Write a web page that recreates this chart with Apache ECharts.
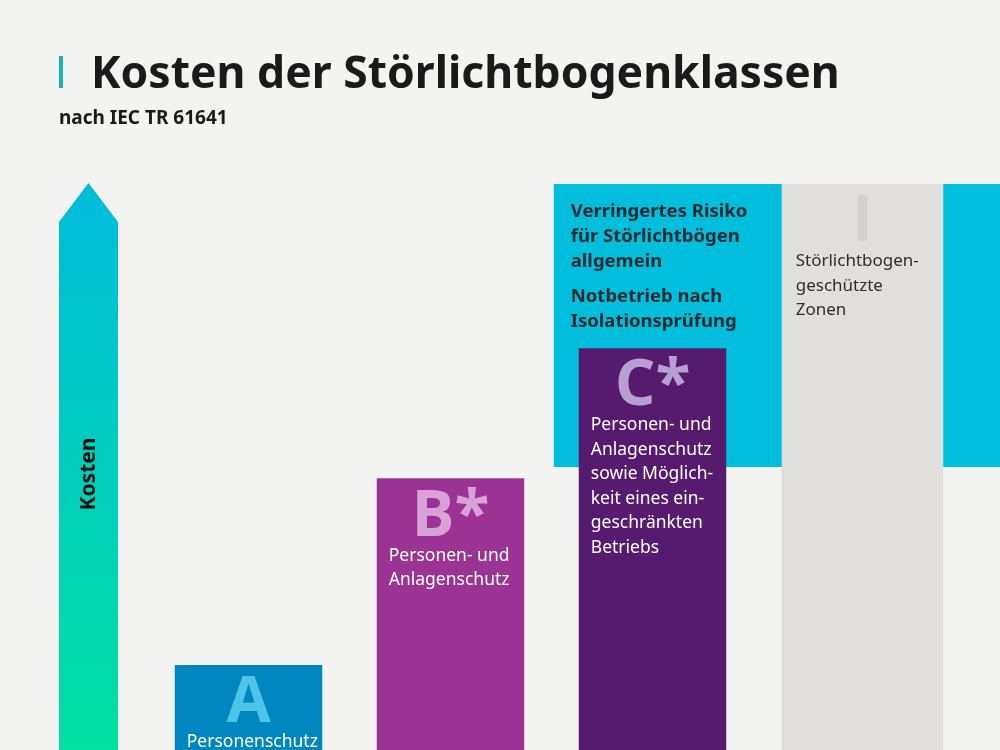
<!DOCTYPE html>
<html>
<head>
<meta charset="utf-8">
<script src="https://cdn.jsdelivr.net/npm/echarts@6/dist/echarts.min.js"></script>
<style>
html, body {margin: 0; padding: 0; background: #f3f3f1;}
#chart {width: 1000px; height: 750px;}
</style>
</head>
<body>
<div id="chart"></div>
<script>
// arc fault classes and their relative cost
const classes = ['A', 'B*', 'C*', 'I']
const costs = [15, 48, 71, 100]
const descriptions = [
  'Personenschutz',
  'Personen- und\nAnlagenschutz',
  'Personen- und\nAnlagenschutz\nsowie Möglich-\nkeit eines ein-\ngeschränkten\nBetriebs',
  'Störlichtbogen-\ngeschützte\nZonen',
]
// reduced-risk band starts at class C* and spans these cost values
const riskStart = 2
const riskBand = [50, 100]
const riskNotes = ['Verringertes Risiko\nfür Störlichtbögen\nallgemein', 'Notbetrieb nach\nIsolationsprüfung']

const font = 'Noto Sans'
const fills = ['#0087c0', '#9b3395', '#561b6f', '#e0dfdb']
const letterFills = ['#4ec4e8', '#d8a2d6', '#b6a0d2', '#d3d2cc']
const textFills = ['#ffffff', '#ffffff', '#ffffff', '#2e2e2e']

const chart = echarts.init(document.getElementById('chart'))

function barBox(api, i, value) {
  const top = api.coord([i, value])
  const base = api.coord([i, 0])
  const band = api.size([1, 0])[0]
  const zone = classes[i] === 'I'
  const w = band * (zone ? 0.8 : 0.73)
  const x = top[0] - w / 2 + (zone ? 8 : 0)
  return {x, y: top[1], w, h: base[1] - top[1], pad: zone ? 14 : 12}
}

function renderBar(params, api) {
  const i = api.value(0)
  const b = barBox(api, i, api.value(1))
  return {
    type: 'group',
    children: [
      {type: 'rect', shape: {x: b.x, y: b.y, width: b.w, height: b.h}, style: {fill: fills[i]}},
      {
        type: 'text',
        style: {
          text: classes[i], x: b.x + b.w / 2, y: b.y + 39, align: 'center', verticalAlign: 'middle',
          fontFamily: 'Open Sans', fontWeight: 'bold', fontSize: 64, fill: letterFills[i],
        },
      },
      {
        type: 'text',
        style: {
          text: descriptions[i], x: b.x + b.pad, y: b.y + 65, verticalAlign: 'top',
          fontFamily: font, fontSize: i === 3 ? 17 : 17.5, lineHeight: 24.5, fill: textFills[i],
        },
      },
    ],
  }
}

function renderBand(params, api) {
  const i = api.value(0)
  const hi = barBox(api, i, api.value(2))
  const lo = api.coord([i, api.value(1)])
  const x = hi.x - 25
  const noteStyle = {fontFamily: font, fontWeight: 'bold', fontSize: 18.5, lineHeight: 25, fill: '#1b2a30', verticalAlign: 'top'}
  return {
    type: 'group',
    children: [
      {type: 'rect', shape: {x, y: hi.y, width: api.getWidth() - x, height: lo[1] - hi.y}, style: {fill: '#00bedc'}},
      {type: 'text', style: Object.assign({text: riskNotes[0], x: x + 17, y: hi.y + 15}, noteStyle)},
      {type: 'text', style: Object.assign({text: riskNotes[1], x: x + 17, y: hi.y + 100}, noteStyle)},
    ],
  }
}

chart.setOption({
  backgroundColor: '#f3f3f1',
  animation: false,
  title: [{
    text: 'Kosten der Störlichtbogenklassen',
    left: 91,
    top: 53,
    padding: 0,
    textStyle: {fontFamily: font, fontWeight: 'bold', fontSize: 44.5, color: '#1a1a1a'},
  }, {
    text: 'nach IEC TR 61641',
    left: 59,
    top: 109,
    padding: 0,
    textStyle: {fontFamily: font, fontWeight: 'bold', fontSize: 19, color: '#1a1a1a'},
  }],
  graphic: [
    {type: 'rect', shape: {x: 59, y: 56, width: 4, height: 32}, style: {fill: '#1ab2b4'}},
    {
      type: 'polygon',
      shape: {points: [[59, 750], [59, 222], [88.5, 183], [118, 222], [118, 750]]},
      style: {
        fill: new echarts.graphic.LinearGradient(0, 0, 0, 1, [
          {offset: 0, color: '#00bcda'},
          {offset: 1, color: '#00e0a0'},
        ]),
      },
      z: 1,
    },
  ],
  grid: {left: 147.5, right: 44.5, top: 184, bottom: 0},
  xAxis: {type: 'category', data: classes, show: false},
  yAxis: {
    type: 'value',
    min: 0,
    max: 100,
    axisLine: {show: false},
    axisTick: {show: false},
    axisLabel: {show: false},
    splitLine: {show: false},
    name: 'Kosten',
    nameLocation: 'middle',
    nameRotate: 90,
    nameGap: 48,
    nameTextStyle: {fontFamily: font, fontWeight: 'bold', fontSize: 21, color: '#111', padding: [0, 14, 0, 0]},
    z: 5,
  },
  series: [{
    type: 'custom',
    renderItem: renderBand,
    data: [[riskStart, riskBand[0], riskBand[1]]],
    z: 2,
    silent: true,
  }, {
    type: 'custom',
    renderItem: renderBar,
    data: classes.map((c, i) => [i, costs[i]]),
    z: 3,
    silent: true,
  }],
})
</script>
</body>
</html>
